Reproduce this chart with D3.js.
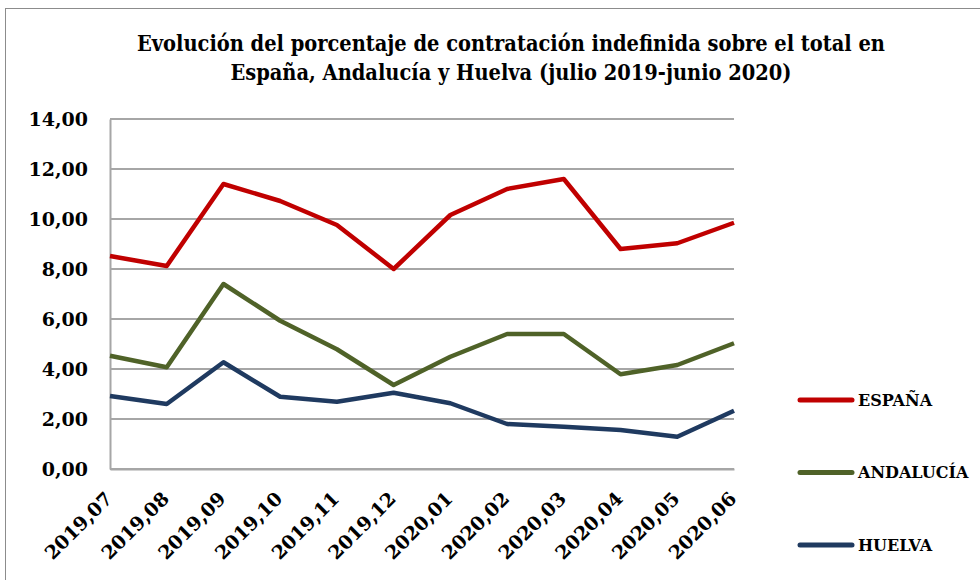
<!DOCTYPE html>
<html>
<head>
<meta charset="utf-8">
<script src="https://cdn.jsdelivr.net/npm/d3@7"></script>
<style>
  body { margin: 0; background: #fff; }
  svg { display: block; }
  text { font-family: "DejaVu Serif", "Liberation Serif", serif; font-weight: bold; fill: #000; }
</style>
</head>
<body>
<div id="chart"></div>
<script>
// Meses (eje X)
var categories = ["2019,07", "2019,08", "2019,09", "2019,10", "2019,11", "2019,12",
                  "2020,01", "2020,02", "2020,03", "2020,04", "2020,05", "2020,06"];
// Porcentajes
var espana    = [8.52, 8.12, 11.40, 10.72, 9.76, 8.00, 10.16, 11.20, 11.60, 8.80, 9.03, 9.85];
var andalucia = [4.53, 4.07, 7.40, 5.93, 4.79, 3.36, 4.49, 5.40, 5.40, 3.79, 4.16, 5.03];
var huelva    = [2.92, 2.60, 4.27, 2.89, 2.69, 3.05, 2.63, 1.80, 1.69, 1.56, 1.29, 2.33];
var yTicks = [0, 2, 4, 6, 8, 10, 12, 14];
var seriesNames = ["ESPAÑA", "ANDALUCÍA", "HUELVA"];

var series = [
  { name: seriesNames[0], values: espana, color: "#c00000" },
  { name: seriesNames[1], values: andalucia, color: "#4f6228" },
  { name: seriesNames[2], values: huelva, color: "#1f3a60" }
];

var W = 980, H = 580;
var margin = { top: 119, right: 246, bottom: 111, left: 110 };
var width = W - margin.left - margin.right,
    height = H - margin.top - margin.bottom;

var svg = d3.select("#chart").append("svg")
  .attr("width", W)
  .attr("height", H);

// marco exterior
svg.append("rect")
  .attr("x", 5.5).attr("y", 8.5)
  .attr("width", W).attr("height", H)
  .attr("fill", "none")
  .attr("stroke", "#8c8c8c")
  .attr("stroke-width", 1);

// título
svg.append("text")
  .attr("x", 511).attr("text-anchor", "middle")
  .style("font-family", "'DejaVu Serif Condensed', 'Liberation Serif', serif")
  .style("font-size", "21.6px")
  .selectAll("tspan")
  .data(["Evolución del porcentaje de contratación indefinida sobre el total en",
         "España, Andalucía y Huelva (julio 2019-junio 2020)"])
  .enter().append("tspan")
  .attr("x", 511)
  .attr("y", function (d, i) { return 51 + i * 29; })
  .text(function (d) { return d; });

var xScale = d3.scalePoint()
  .domain(categories)
  .range([0, width]);

var yScale = d3.scaleLinear()
  .domain([0, 14])
  .range([height, 0]);

var g = svg.append("g")
  .attr("transform", "translate(" + margin.left + "," + margin.top + ")");

// líneas de cuadrícula
g.selectAll(".grid")
  .data(yTicks)
  .enter().append("line")
  .attr("x1", 0).attr("x2", width)
  .attr("y1", function (d) { return yScale(d); })
  .attr("y2", function (d) { return yScale(d); })
  .attr("stroke", "#a6a6a6")
  .attr("stroke-width", 2);

// eje Y
var yAxis = g.append("g")
  .call(d3.axisLeft(yScale).tickValues(yTicks).tickSize(0).tickPadding(22)
    .tickFormat(function (d) { return d3.format(".2f")(d).replace(".", ","); }));
yAxis.select(".domain").attr("stroke", "#a6a6a6").attr("stroke-width", 2);
yAxis.selectAll("text").style("font-size", "19px").attr("dy", "0.36em");

// eje X
var xAxis = g.append("g")
  .attr("transform", "translate(0," + height + ")")
  .call(d3.axisBottom(xScale).tickSize(0).tickPadding(0));
xAxis.select(".domain").attr("stroke", "#a6a6a6").attr("stroke-width", 2);
xAxis.selectAll("text")
  .style("font-size", "19px")
  .attr("text-anchor", "end")
  .attr("dy", "0")
  .attr("transform", "translate(3,31) rotate(-45)");

// series
var line = d3.line()
  .x(function (d, i) { return xScale(categories[i]); })
  .y(function (d) { return yScale(d); });

g.selectAll(".serie")
  .data(series)
  .enter().append("path")
  .attr("fill", "none")
  .attr("stroke", function (d) { return d.color; })
  .attr("stroke-width", 4.5)
  .attr("stroke-linejoin", "round")
  .attr("d", function (d) { return line(d.values); });

// leyenda
var legend = svg.selectAll(".legend")
  .data(series)
  .enter().append("g")
  .attr("transform", function (d, i) { return "translate(800," + (400 + i * 72.5) + ")"; });

legend.append("line")
  .attr("x1", 0).attr("x2", 52)
  .attr("stroke", function (d) { return d.color; })
  .attr("stroke-width", 5)
  .attr("stroke-linecap", "round");

legend.append("text")
  .attr("x", 58).attr("dy", "0.36em")
  .style("font-size", "16px")
  .text(function (d) { return d.name; });
</script>
</body>
</html>
